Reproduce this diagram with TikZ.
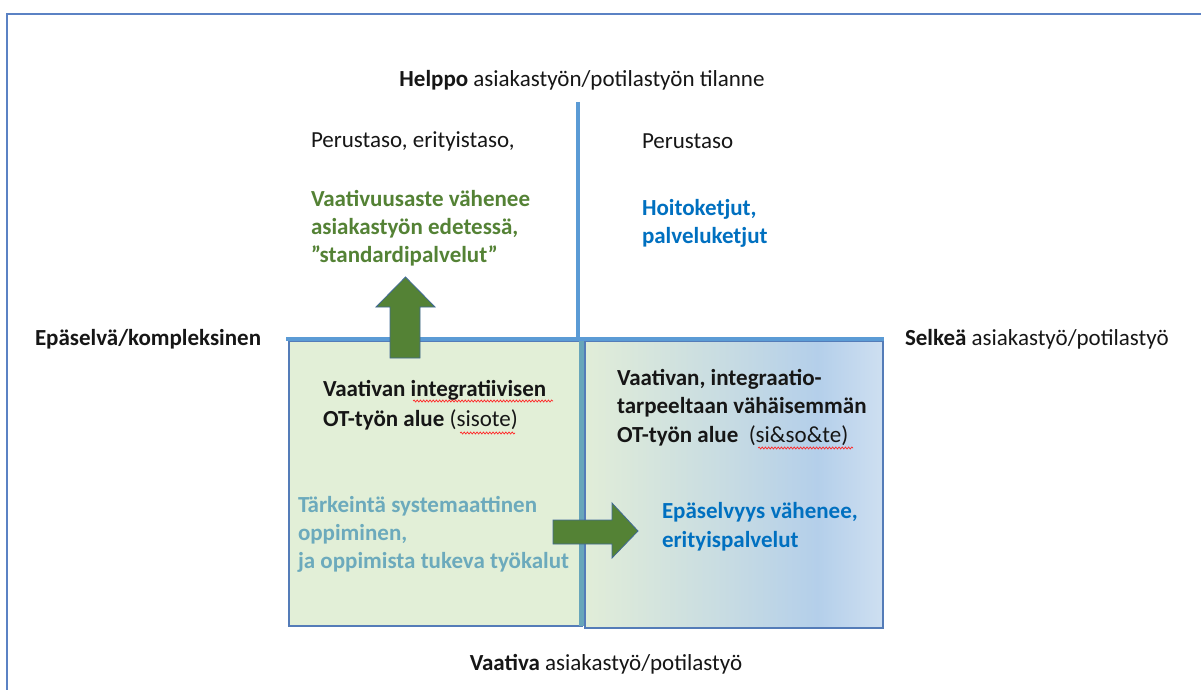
\documentclass[tikz,border=0pt]{standalone}
\usepackage{fontspec}
\setmainfont{Carlito}
\usetikzlibrary{decorations.pathmorphing}

\definecolor{framec}{RGB}{91,130,196}
\definecolor{axisc}{RGB}{91,155,213}
\definecolor{boxline}{RGB}{84,124,184}
\definecolor{leftfill}{RGB}{226,239,215}
\definecolor{tealline}{RGB}{104,166,186}
\definecolor{arrowfill}{RGB}{84,130,53}
\definecolor{arrowline}{RGB}{65,105,150}
\definecolor{ink}{RGB}{22,22,22}
\definecolor{greentxt}{RGB}{84,130,53}
\definecolor{bluetxt}{RGB}{0,112,192}
\definecolor{tealtxt}{RGB}{108,170,188}
\definecolor{gradA}{RGB}{225,237,216}
\definecolor{gradB}{RGB}{200,220,226}
\definecolor{gradC}{RGB}{180,207,234}
\definecolor{gradD}{RGB}{206,223,241}

% gradient of the right-hand quadrant, left to right
\pgfdeclarehorizontalshading{rquad}{100bp}{%
  color(0bp)=(gradA); color(25bp)=(gradA); color(48bp)=(gradB);
  color(64bp)=(gradC); color(75bp)=(gradD); color(100bp)=(gradD)}

\begin{document}
\begin{tikzpicture}[x=1pt,y=-1pt,
  every node/.style={inner sep=0pt,outer sep=0pt,text=ink,
    font=\fontsize{23}{29}\selectfont},
  % multi-line labels are placed by the baseline of their last line
  lbl/.style={anchor=base west,align=left},
  quad/.style={draw=boxline,line width=1.4pt},
  bigarrow/.style={fill=arrowfill,draw=arrowline,line width=0.8pt,line join=miter},
  squiggle/.style={draw=red!85!white,line width=0.7pt,decorate,
    decoration={snake,amplitude=1pt,segment length=3.2pt}}]
\useasboundingbox (0,0) rectangle (1201,690);
\fill[white] (0,0) rectangle (1201,690);

% outer frame (top and left edges)
\draw[framec,line width=2pt] (7,690) -- (7,14) -- (1201,14);

% quadrants
\draw[quad,fill=leftfill] (289,341) rectangle (582,626);
\shade[shading=rquad] (585,341) rectangle (883,628);
\draw[quad] (585,341) rectangle (883,628);
\draw[tealline,line width=5pt] (581,341) -- (581,626);

% axes
\coordinate (axL) at (286,339);
\coordinate (axR) at (884,339);
\coordinate (axT) at (578,102);
\coordinate (axB) at (578,339);
\draw[axisc,line width=4pt] (axL) -- (axR);
\draw[axisc,line width=4.5pt] (axT) -- (axB);

% arrows
\draw[bigarrow] (390,358) -- (390,307) -- (376,307) -- (405.5,277)
  -- (435,307) -- (420,307) -- (420,358) -- cycle;
\draw[bigarrow] (553,520) -- (612,520) -- (612,503) -- (638,531)
  -- (612,558) -- (612,544) -- (553,544) -- cycle;

% axis labels
\node[anchor=base] (top) at (582,87) {\textbf{Helppo} asiakastyön/potilastyön tilanne};
\node[anchor=base] (bottom) at (606,670) {\textbf{Vaativa} asiakastyö/potilastyö};
\node[lbl] (left) at (35,345) {\textbf{Epäselvä/kompleksinen}};
\node[lbl] (right) at (905,345) {\textbf{Selkeä} asiakastyö/potilastyö};

% upper quadrants
\node[lbl] (ul) at (311,147) {Perustaso, erityistaso,};
\node[lbl,text=greentxt,font=\fontsize{23}{28}\selectfont\bfseries] (ulg) at (311,262)
  {Vaativuusaste vähenee\\asiakastyön edetessä,\\”standardipalvelut"};
\node[lbl] (ur) at (642,148) {Perustaso};
\node[lbl,text=bluetxt,font=\fontsize{23}{28}\selectfont\bfseries] (urb) at (642,243)
  {Hoitoketjut,\\palveluketjut};

% lower quadrants
\node[lbl,font=\fontsize{23}{30}\selectfont] (ll) at (323,426)
  {\textbf{Vaativan integratiivisen}\\\textbf{OT-työn alue} (sisote)};
\node[lbl,text=tealtxt,font=\fontsize{23}{28}\selectfont\bfseries] (llt) at (298,568)
  {Tärkeintä systemaattinen\\oppiminen,\\ja oppimista tukeva työkalut};
\node[lbl,font=\fontsize{23}{28.5}\selectfont] (lr) at (617,442)
  {\textbf{Vaativan, integraatio-}\\\textbf{tarpeeltaan vähäisemmän}\\\textbf{OT-työn alue}\ \ (si\&so\&te)};
\node[lbl,text=bluetxt,font=\fontsize{23}{29}\selectfont\bfseries] (lrb) at (662,547)
  {Epäselvyys vähenee,\\erityispalvelut};

% spelling marks under unknown words
\draw[squiggle] (413,401) -- (553,401);
\draw[squiggle] (460,433) -- (515,433);
\draw[squiggle] (758,448) -- (853,448);
\end{tikzpicture}
\end{document}
